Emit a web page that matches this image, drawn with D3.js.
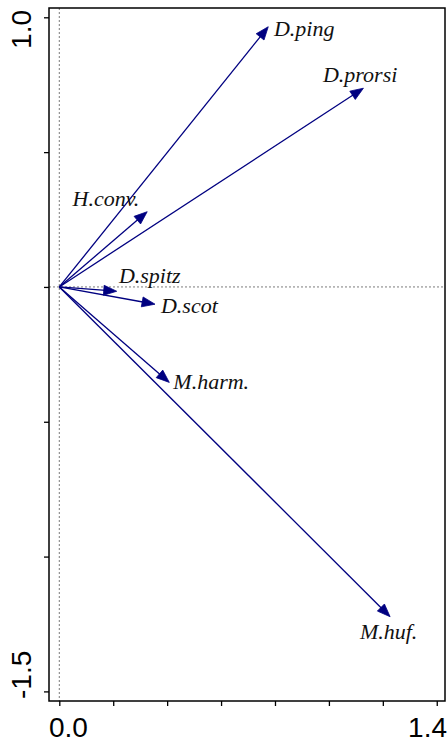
<!DOCTYPE html>
<html>
<head>
<meta charset="utf-8">
<script src="https://cdn.jsdelivr.net/npm/d3@7"></script>
<style>
  body { margin: 0; background: #fff; }
  svg { display: block; }
</style>
</head>
<body>
<div id="chart"></div>
<script>
// species scores (arrow tips) on the two ordination axes
const species = ['D.ping', 'D.prorsi', 'H.conv.', 'D.spitz', 'D.scot', 'M.harm.', 'M.huf.'];
const axis1 = [0.775, 1.128, 0.326, 0.213, 0.355, 0.408, 1.227];
const axis2 = [0.965, 0.737, 0.279, -0.016, -0.064, -0.354, -1.223];
// where each label sits (data units, left end of text / baseline)
const labelX = [0.796, 0.978, 0.049, 0.221, 0.377, 0.423, 1.115];
const labelY = [0.931, 0.760, 0.302, 0.014, -0.095, -0.379, -1.304];

const xTicks = [0, 0.2, 0.4, 0.6, 0.8, 1.0, 1.2, 1.4];
const yTicks = [1.0, 0.5, 0, -0.5, -1.0, -1.5];
const xTickLabels = { 0: '0.0', 1.4: '1.4' };
const yTickLabels = { 1: '1.0', '-1.5': '-1.5' };

const width = 447, height = 742;
const box = { left: 49, top: 8, right: 445, bottom: 701 };

const x = d3.scaleLinear().domain([-0.0382, 1.4306]).range([box.left, box.right]);
const y = d3.scaleLinear().domain([-1.5356, 1.0345]).range([box.bottom, box.top]);

const svg = d3.select('#chart').append('svg')
    .attr('width', width)
    .attr('height', height);

// zero reference lines
svg.append('line')
    .attr('x1', x(0)).attr('x2', x(0))
    .attr('y1', box.top).attr('y2', box.bottom)
    .attr('stroke', '#444').attr('stroke-width', 0.7)
    .attr('stroke-dasharray', '2,2');
svg.append('line')
    .attr('x1', box.left).attr('x2', box.right)
    .attr('y1', y(0)).attr('y2', y(0))
    .attr('stroke', '#444').attr('stroke-width', 0.7)
    .attr('stroke-dasharray', '2,2');

// axes
const xAxis = d3.axisBottom(x).tickValues(xTicks).tickSize(5).tickFormat('');
const yAxis = d3.axisLeft(y).tickValues(yTicks).tickSize(5).tickFormat('');

const gx = svg.append('g').attr('transform', `translate(0,${box.bottom})`).call(xAxis);
const gy = svg.append('g').attr('transform', `translate(${box.left},0)`).call(yAxis);
[gx, gy].forEach(g => {
    g.select('.domain').remove();
    g.selectAll('line').attr('stroke', '#000').attr('stroke-width', 1.3);
});

svg.append('rect')
    .attr('x', box.left).attr('y', box.top)
    .attr('width', box.right - box.left)
    .attr('height', box.bottom - box.top)
    .attr('fill', 'none')
    .attr('stroke', '#000')
    .attr('stroke-width', 1.5);

// tick labels (only the extremes are labelled)
const tickFont = "'Liberation Sans', Arial, sans-serif";
xTicks.filter(d => xTickLabels[d]).forEach(d => {
    svg.append('text')
        .attr('x', d === 0 ? box.left : width)
        .attr('y', 737)
        .attr('text-anchor', d === 0 ? 'start' : 'end')
        .attr('font-family', tickFont)
        .attr('font-size', 28)
        .text(xTickLabels[d]);
});
yTicks.filter(d => yTickLabels[d]).forEach(d => {
    const top = d > 0;
    svg.append('text')
        .attr('transform', `translate(31,${top ? 10 : 699}) rotate(-90)`)
        .attr('text-anchor', top ? 'end' : 'start')
        .attr('font-family', tickFont)
        .attr('font-size', 28)
        .text(yTickLabels[d]);
});

// arrows
const col = '#000080';
const headLen = 13, headHalf = 5;
const g = svg.append('g');
species.forEach((s, i) => {
    const x0 = x(0), y0 = y(0);
    const x1 = x(axis1[i]), y1 = y(axis2[i]);
    const ang = Math.atan2(y1 - y0, x1 - x0);
    const bx = x1 - headLen * Math.cos(ang), by = y1 - headLen * Math.sin(ang);
    g.append('line')
        .attr('x1', x0).attr('y1', y0)
        .attr('x2', bx + 2 * Math.cos(ang)).attr('y2', by + 2 * Math.sin(ang))
        .attr('stroke', col).attr('stroke-width', 1.3);
    const pts = [
        [x1, y1],
        [bx + headHalf * Math.sin(ang), by - headHalf * Math.cos(ang)],
        [bx - headHalf * Math.sin(ang), by + headHalf * Math.cos(ang)]
    ];
    g.append('polygon')
        .attr('points', pts.map(p => p.join(',')).join(' '))
        .attr('fill', col).attr('stroke', col).attr('stroke-width', 0.8);

    svg.append('text')
        .attr('x', x(labelX[i]))
        .attr('y', y(labelY[i]))
        .attr('font-family', "'Liberation Serif', 'Times New Roman', serif")
        .attr('font-style', 'italic')
        .attr('font-size', 22)
        .attr('fill', '#111')
        .text(s);
});
</script>
</body>
</html>
